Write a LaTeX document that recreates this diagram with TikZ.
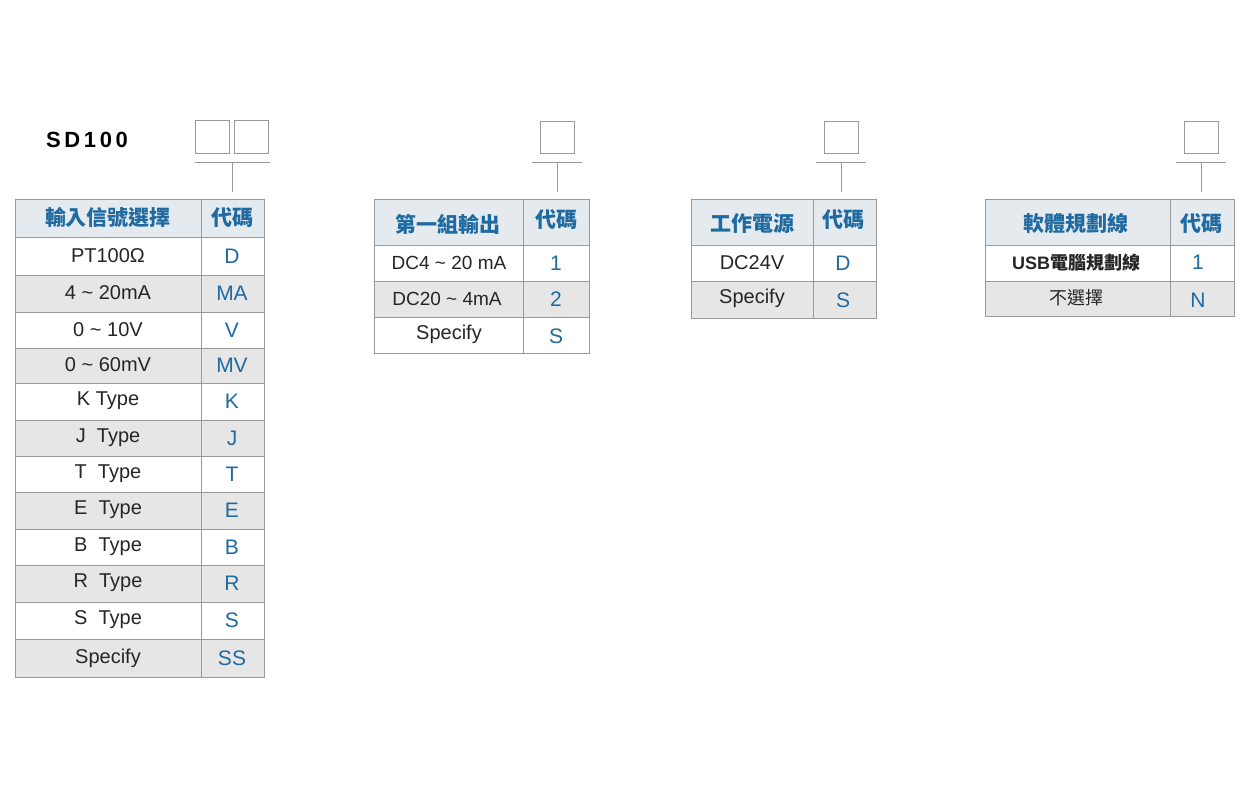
\documentclass[tikz,border=0pt]{standalone}
\usepackage{fontspec}
\setmainfont{Liberation Sans}
\newfontfamily\cjk{Noto Sans CJK TC}
\definecolor{headfill}{HTML}{E4EAEE}
\definecolor{rowfill}{HTML}{E6E6E6}
\definecolor{codeblue}{HTML}{1F6AA0}
\definecolor{gridgray}{HTML}{9A9A9A}
\begin{document}
\begin{tikzpicture}[
  x = 1pt, y = -1pt,
  cell/.style = {
    draw = gridgray,
    line width = 1pt,
  },
  label/.style = {
    font = \fontsize{20}{20}\selectfont,
    text = black!85,
  },
  code/.style = {
    font = \fontsize{21}{21}\selectfont,
    text = codeblue,
  },
  head/.style = {
    font = \cjk\fontsize{21}{21}\selectfont\bfseries,
    text = codeblue,
  },
  slot/.style = {
    draw = gridgray,
    line width = 0.8pt,
  }
]
  \useasboundingbox[fill = white] (0, 0) rectangle (1248, 798);

  \node[font = \fontsize{22}{22}\selectfont\bfseries] (title) at (87, 140) {S\,D\,1\,0\,0};

  % code slots
  \draw[slot] (195, 120) rectangle (229, 153);
  \draw[slot] (234, 120) rectangle (268, 153);
  \draw[slot] (195, 162) -- (270, 162) (232, 162) -- (232, 192);
  \foreach \cx in {557, 841, 1201} {
    \draw[slot] (\cx-17, 121) rectangle (\cx+17, 153);
    \draw[slot] (\cx-25, 162) -- (\cx+25, 162) (\cx, 162) -- (\cx, 192);
  }

  % input table
  \fill[headfill] (15, 199) rectangle (264, 237);
  \foreach \ya/\yb in {275/312, 348/383, 420/456, 492/529, 565/602, 639/677}
    \fill[rowfill] (15, \ya) rectangle (264, \yb);
  \foreach \y in {237, 275, 312, 348, 383, 420, 456, 492, 529, 565, 602, 639}
    \draw[cell] (15, \y) -- (264, \y);
  \draw[cell] (15, 199) rectangle (264, 677);
  \draw[cell] (201, 199) -- (201, 677);
  \node[head] (in-h) at (108, 218) {輸入信號選擇};
  \node[head] (in-c) at (232, 218) {代碼};
  \foreach \y/\txt/\cd [count = \i] in {
      256/PT100Ω/D, 293/4 \~{} 20mA/MA, 330/0 \~{} 10V/V, 365/0 \~{} 60mV/MV,
      401/K Type/K, 438/J\ \ Type/J, 474/T\ \ Type/T, 510/E\ \ Type/E,
      547/B\ \ Type/B, 583/R\ \ Type/R, 620/S\ \ Type/S, 658/Specify/SS} {
    \node[label] (in-l\i) at (108, \y) {\txt};
    \node[code] (in-d\i) at (232, \y) {\cd};
  }

  % output table
  \fill[headfill] (374, 199) rectangle (589, 245);
  \fill[rowfill] (374, 281) rectangle (589, 317);
  \draw[cell] (374, 245) -- (589, 245) (374, 281) -- (589, 281) (374, 317) -- (589, 317);
  \draw[cell] (374, 199) rectangle (589, 353);
  \draw[cell] (523, 199) -- (523, 353);
  \node[head] (out-h) at (448, 224) {第一組輸出};
  \node[head] (out-c) at (556, 220) {代碼};
  \node[label, font = \fontsize{19}{19}\selectfont] (out-l1) at (449, 263) {DC4 \~{} 20 mA};
  \node[code] (out-d1) at (556, 263) {1};
  \node[label, font = \fontsize{19}{19}\selectfont] (out-l2) at (447, 299) {DC20 \~{} 4mA};
  \node[code] (out-d2) at (556, 299) {2};
  \node[label] (out-l3) at (449, 334) {Specify};
  \node[code] (out-d3) at (556, 336) {S};

  % power table
  \fill[headfill] (691, 199) rectangle (876, 245);
  \fill[rowfill] (691, 281) rectangle (876, 318);
  \draw[cell] (691, 245) -- (876, 245) (691, 281) -- (876, 281);
  \draw[cell] (691, 199) rectangle (876, 318);
  \draw[cell] (813, 199) -- (813, 318);
  \node[head] (pw-h) at (752, 224) {工作電源};
  \node[head] (pw-c) at (843, 220) {代碼};
  \node[label] (pw-l1) at (752, 263) {DC24V};
  \node[code] (pw-d1) at (843, 263) {D};
  \node[label] (pw-l2) at (752, 298) {Specify};
  \node[code] (pw-d2) at (843, 300) {S};

  % software table
  \fill[headfill] (985, 199) rectangle (1234, 245);
  \fill[rowfill] (985, 281) rectangle (1234, 316);
  \draw[cell] (985, 245) -- (1234, 245) (985, 281) -- (1234, 281);
  \draw[cell] (985, 199) rectangle (1234, 316);
  \draw[cell] (1170, 199) -- (1170, 316);
  \node[head] (sw-h) at (1076, 224) {軟體規劃線};
  \node[head] (sw-c) at (1201, 224) {代碼};
  \node[label, font = \fontsize{18}{18}\selectfont\bfseries] (sw-l1) at (1076, 263) {USB{\cjk 電腦規劃線}};
  \node[code] (sw-d1) at (1198, 262) {1};
  \node[label, font = \cjk\fontsize{18}{18}\selectfont] (sw-l2) at (1076, 298) {不選擇};
  \node[code] (sw-d2) at (1198, 300) {N};
\end{tikzpicture}
\end{document}
